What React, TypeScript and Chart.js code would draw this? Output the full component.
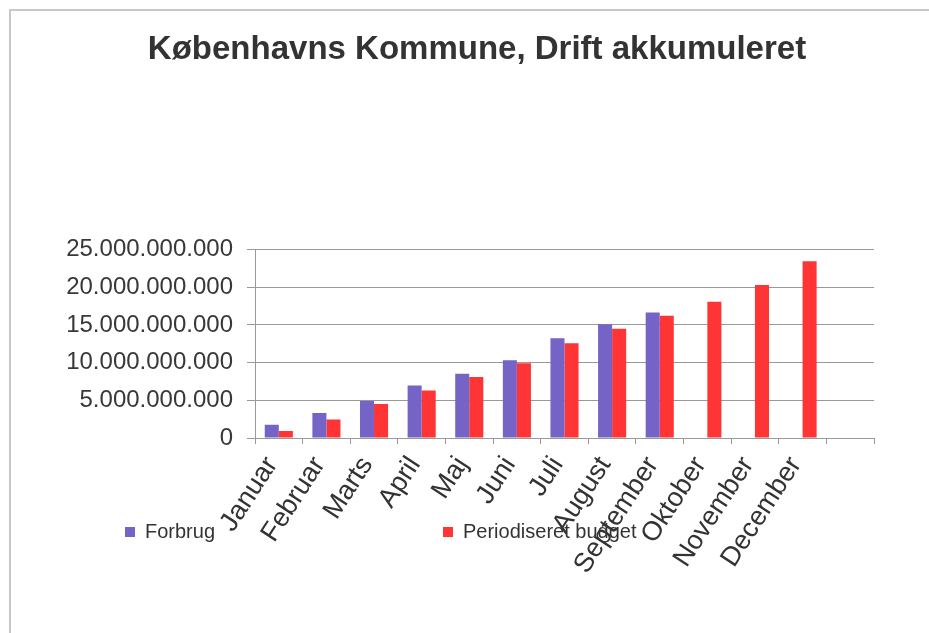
import React, { useEffect, useRef } from "react";
import { Chart, registerables } from "chart.js";

Chart.register(...registerables);

const TITLE = "Københavns Kommune, Drift akkumuleret";
const MONTHS = [
  "Januar", "Februar", "Marts", "April", "Maj", "Juni", "Juli",
  "August", "September", "Oktober", "November", "December", "",
];
const SERIES_NAMES = ["Forbrug", "Periodiseret budget"];
const FORBRUG = [
  1770000000, 3320000000, 4920000000, 6950000000, 8510000000, 10320000000,
  13250000000, 15110000000, 16660000000, null, null, null, null,
];
const BUDGET = [
  930000000, 2470000000, 4520000000, 6290000000, 8110000000, 9920000000,
  12580000000, 14490000000, 16220000000, 18090000000, 20290000000, 23450000000, null,
];
const Y_MAX = 25000000000;
const Y_STEP = 5000000000;

const PURPLE = "#7563C6";
const RED = "#FF3535";
const FONT = "'Liberation Sans', Arial, sans-serif";

const fmt = (v: number) => Math.round(v).toString().replace(/\B(?=(\d{3})+(?!\d))/g, ".");

export default function App() {
  const ref = useRef<HTMLCanvasElement | null>(null);
  useEffect(() => {
    if (!ref.current) return;
    const chart = new Chart(ref.current, {
      type: "bar",
      data: {
        labels: MONTHS,
        datasets: [
          { label: SERIES_NAMES[0], data: FORBRUG, backgroundColor: PURPLE, categoryPercentage: 0.59, barPercentage: 1 },
          { label: SERIES_NAMES[1], data: BUDGET, backgroundColor: RED, categoryPercentage: 0.59, barPercentage: 1 },
        ],
      },
      options: {
        responsive: false,
        animation: false,
        layout: { padding: { left: 60, right: 35, top: 0, bottom: 0 } },
        plugins: {
          legend: { display: false },
          tooltip: { enabled: false },
          title: {
            display: true,
            text: TITLE,
            color: "#333333",
            font: { family: FONT, size: 33, weight: "bold", lineHeight: 1.2 },
            padding: { top: 30, bottom: 180 },
          },
        },
        scales: {
          x: {
            grid: { display: true, drawOnChartArea: false, drawTicks: true, tickLength: 6, color: "#999999", offset: true },
            border: { color: "#999999" },
            ticks: {
              autoSkip: false,
              maxRotation: 57,
              minRotation: 57,
              color: "#333333",
              font: { family: FONT, size: 27 },
              padding: 7,
              labelOffset: -7,
            },
            afterFit: (s: any) => { s.height = 195; },
          },
          y: {
            min: 0,
            max: Y_MAX,
            ticks: {
              stepSize: Y_STEP,
              color: "#383838",
              font: { family: FONT, size: 24 },
              padding: 14,
              callback: (v: any) => fmt(Number(v)),
            },
            grid: { color: "#999999", tickLength: 8 },
            border: { color: "#999999" },
            afterFit: (s: any) => { s.width = 195; },
          },
          ySpacer: {
            type: "linear",
            position: "right",
            display: true,
            grid: { display: false },
            ticks: { display: false },
            border: { display: false },
            afterFit: (s: any) => { s.width = 20; },
          },
        },
      },
    });
    return () => chart.destroy();
  }, []);

  const legendText: React.CSSProperties = {
    position: "absolute",
    fontFamily: FONT,
    fontSize: 20,
    color: "#333333",
    lineHeight: "20px",
    whiteSpace: "nowrap",
  };
  return (
    <div style={{ position: "absolute", left: 0, top: 0, width: 929, height: 633, overflow: "hidden", background: "#ffffff" }}>
      <div style={{ position: "absolute", left: 9, top: 9, width: 1000, height: 700, borderLeft: "2px solid #c8c8c8", borderTop: "2px solid #c8c8c8" }} />
      <canvas ref={ref} width={929} height={633} style={{ position: "absolute", left: 0, top: 0 }} />
      <div style={{ position: "absolute", left: 125, top: 527, width: 10, height: 10, background: PURPLE }} />
      <div style={{ ...legendText, left: 145, top: 521 }}>{SERIES_NAMES[0]}</div>
      <div style={{ position: "absolute", left: 443, top: 527, width: 10, height: 10, background: RED }} />
      <div style={{ ...legendText, left: 463, top: 521 }}>{SERIES_NAMES[1]}</div>
    </div>
  );
}
